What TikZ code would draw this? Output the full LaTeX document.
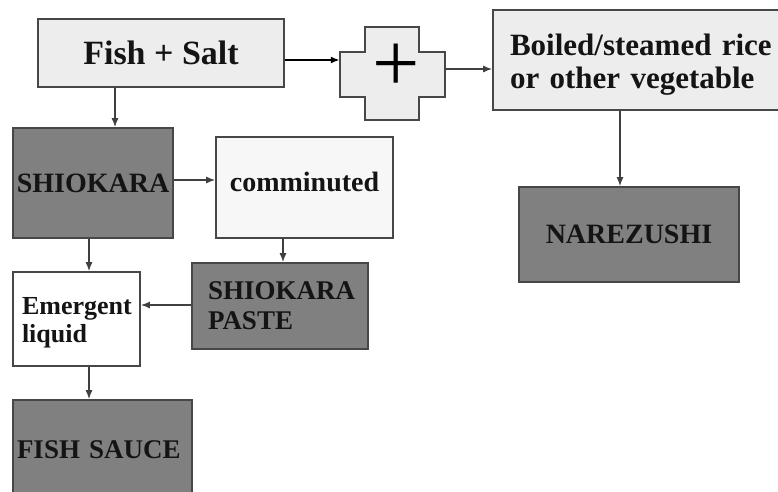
\documentclass[tikz,border=0pt]{standalone}
\usepackage{fontspec}
\setmainfont{Liberation Serif}
\usetikzlibrary{arrows.meta}

\def\boxline{1.6pt}
\newcommand{\boxfont}[2]{\bfseries\fontsize{#1pt}{#2pt}\selectfont}

\begin{document}
\begin{tikzpicture}[x=1pt,y=-1pt]
    \tikzstyle{box}=[draw=black!72, line width=\boxline, text=black!92, inner sep=0pt]
    \tikzstyle{light box}=[box, fill=black!7]
    \tikzstyle{dark box}=[box, fill=black!50]
    \tikzstyle{white box}=[box, fill=white]
    \tikzstyle{flow}=[-{Latex[length=9pt,width=7pt]}, draw=black!75, line width=1.4pt]
    \tikzstyle{heavy flow}=[flow, draw=black, line width=2.6pt]

    \useasboundingbox (0,0) rectangle (778,491);
    \clip (0,0) rectangle (778,491);

    % Draw the top row: fish and salt, the cross, the rice
    \node[light box, minimum width=246, minimum height=68, font=\boxfont{34}{36}] (fish) at (161,53) {Fish + Salt};
    \node[minimum width=105, minimum height=45, inner sep=0pt] (cross) at (392.5,74.5) {};
    \draw[box, fill=black!7] (cross.north west) -- ++(25,0) -- ++(0,-25) -- ++(54,0) -- ++(0,25)
        -- (cross.north east) -- (cross.south east) -- ++(-26,0) -- ++(0,23) -- ++(-54,0)
        -- ++(0,-23) -- (cross.south west) -- cycle;
    \node[font=\fontsize{84pt}{84pt}\selectfont, inner sep=0pt] (plus) at (396,68) {+};
    \node[light box, minimum width=297, minimum height=100, text width=263, inner xsep=17pt,
        align=left, text height=31pt, font=\boxfont{31}{33}] (boiled) at (641.5,60)
        {Boiled/steamed rice\\or other vegetable};
    \node[dark box, minimum width=220, minimum height=95, font=\boxfont{28}{30}] (narezushi) at (629,234.5) {NAREZUSHI};

    % Draw the shiokara branch
    \node[dark box, minimum width=160, minimum height=110, font=\boxfont{28}{30}] (shiokara) at (93,183) {SHIOKARA};
    \node[box, fill=black!3, minimum width=177, minimum height=101, text depth=12pt,
        font=\boxfont{28}{30}] (comminuted) at (304.5,187.5) {comminuted};
    \node[dark box, minimum width=176, minimum height=86, text width=144, inner xsep=16pt,
        align=left, font=\boxfont{27}{30}] (paste) at (280,306) {SHIOKARA\\PASTE};
    \node[white box, minimum width=127, minimum height=94, text width=109, inner xsep=9pt,
        align=left, text height=24pt, font=\boxfont{26}{28}] (emergent) at (76.5,319) {Emergent\\liquid};
    \node[dark box, minimum width=179, minimum height=100, text width=171, inner xsep=4pt,
        align=left, font=\boxfont{27}{30}] (sauce) at (102.5,450) {FISH SAUCE};

    % Connect the boxes
    \draw[heavy flow] (fish.east |- 0,60) -- (cross.west |- 0,60);
    \draw[flow] (cross.east |- 0,69) -- (boiled.west |- 0,69);
    \draw[flow] (shiokara.east |- 0,180) -- (comminuted.west |- 0,180);
    \draw[flow] (paste.west |- 0,305) -- (emergent.east |- 0,305);
    \foreach \from/\to/\x in {fish/shiokara/115, shiokara/emergent/89, emergent/sauce/89,
        comminuted/paste/283, boiled/narezushi/620}
        \draw[flow] (\from.south -| \x,0) -- (\to.north -| \x,0);
\end{tikzpicture}
\end{document}
